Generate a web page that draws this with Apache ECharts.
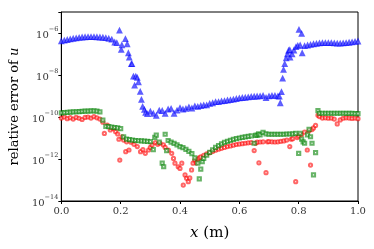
<!DOCTYPE html>
<html><head><meta charset="utf-8">
<script src="https://cdn.jsdelivr.net/npm/echarts@6/dist/echarts.min.js"></script>
<style>html,body{margin:0;padding:0;background:#fff}#c{width:374px;height:249px}</style>
</head><body><div id="c"></div>
<script>
// Blue triangles (x, relative error)
var xBlue = [0.00,0.01,0.02,0.03,0.04,0.05,0.06,0.07,0.08,0.09,0.10,0.11,0.12,0.13,0.14,0.15,0.16,0.17,0.18,0.187,0.196,0.202,0.204,0.216,0.222,0.226,0.229,0.236,0.238,0.243,0.247,0.251,0.256,0.260,0.266,0.270,0.274,0.280,0.284,0.290,0.30,0.31,0.32,0.33,0.34,0.35,0.36,0.37,0.38,0.39,0.40,0.41,0.42,0.43,0.44,0.45,0.46,0.47,0.48,0.49,0.50,0.51,0.52,0.53,0.54,0.55,0.56,0.57,0.58,0.59,0.60,0.61,0.62,0.63,0.64,0.65,0.66,0.67,0.68,0.69,0.70,0.71,0.72,0.73,0.735,0.738,0.742,0.746,0.749,0.753,0.758,0.762,0.766,0.770,0.771,0.778,0.784,0.791,0.797,0.801,0.805,0.810,0.812,0.82,0.83,0.84,0.85,0.86,0.87,0.88,0.89,0.90,0.91,0.92,0.93,0.94,0.95,0.96,0.97,0.98,0.99,1.00];
var yBlue = [3.98e-7,4.27e-7,4.57e-7,4.90e-7,5.25e-7,5.50e-7,5.75e-7,6.03e-7,6.17e-7,6.31e-7,6.31e-7,6.31e-7,6.17e-7,6.03e-7,5.89e-7,5.62e-7,5.25e-7,4.79e-7,3.47e-7,3.24e-7,1.29e-6,1.55e-7,2.57e-7,5.01e-7,2.88e-7,1.07e-7,6.61e-8,3.24e-8,3.24e-8,8.32e-9,3.09e-9,8.32e-9,7.24e-9,4.47e-9,1.55e-9,6.46e-10,3.02e-10,2.14e-10,1.58e-10,1.35e-10,1.78e-10,1.41e-10,1.12e-10,2.00e-10,1.91e-10,1.41e-10,2.24e-10,2.40e-10,1.41e-10,2.00e-10,2.63e-10,2.24e-10,2.40e-10,2.82e-10,2.51e-10,3.16e-10,3.02e-10,3.31e-10,3.55e-10,3.55e-10,4.17e-10,4.47e-10,5.01e-10,5.01e-10,5.50e-10,5.62e-10,6.03e-10,6.31e-10,6.61e-10,7.08e-10,7.59e-10,7.94e-10,8.13e-10,8.51e-10,8.91e-10,9.12e-10,9.33e-10,9.55e-10,1.00e-9,7.94e-10,9.55e-10,1.00e-9,1.00e-9,9.55e-10,9.33e-10,4.47e-10,1.51e-9,6.61e-9,1.74e-8,3.24e-8,6.17e-8,9.55e-8,1.41e-7,1.51e-7,6.61e-8,9.55e-8,1.45e-7,2.09e-7,2.40e-7,1.38e-6,2.51e-7,8.91e-7,1.07e-7,2.34e-7,2.51e-7,2.69e-7,2.88e-7,3.02e-7,3.16e-7,3.24e-7,3.24e-7,3.24e-7,3.24e-7,3.16e-7,3.09e-7,3.09e-7,3.16e-7,3.24e-7,3.39e-7,3.55e-7,3.72e-7,3.89e-7];
// Green squares
var xGreen = [0.00,0.01,0.02,0.03,0.04,0.05,0.06,0.07,0.08,0.09,0.10,0.11,0.12,0.13,0.14,0.15,0.16,0.17,0.18,0.19,0.20,0.21,0.22,0.23,0.24,0.25,0.26,0.27,0.28,0.29,0.30,0.31,0.315,0.32,0.33,0.34,0.345,0.35,0.355,0.36,0.37,0.38,0.39,0.40,0.41,0.42,0.43,0.44,0.45,0.46,0.465,0.47,0.475,0.48,0.49,0.50,0.51,0.52,0.53,0.54,0.55,0.56,0.57,0.58,0.59,0.60,0.61,0.62,0.63,0.64,0.65,0.655,0.66,0.665,0.67,0.68,0.69,0.70,0.71,0.72,0.73,0.74,0.75,0.76,0.77,0.78,0.79,0.80,0.805,0.81,0.815,0.82,0.83,0.835,0.84,0.845,0.85,0.857,0.865,0.87,0.88,0.89,0.90,0.91,0.92,0.93,0.94,0.95,0.96,0.97,0.98,0.99,1.00];
var yGreen = [1.58e-10,1.62e-10,1.66e-10,1.70e-10,1.74e-10,1.78e-10,1.82e-10,1.86e-10,1.91e-10,1.91e-10,1.95e-10,1.95e-10,1.91e-10,1.74e-10,7.08e-11,3.55e-11,3.47e-11,3.31e-11,3.16e-11,3.02e-11,2.82e-11,1.12e-11,8.91e-12,8.32e-12,7.94e-12,7.59e-12,7.41e-12,7.24e-12,7.08e-12,6.92e-12,6.76e-12,2.82e-12,1.07e-11,1.38e-11,6.31e-12,6.31e-13,4.27e-13,1.51e-11,2.51e-12,7.59e-12,6.31e-12,5.50e-12,4.68e-12,3.89e-12,3.47e-12,2.88e-12,2.29e-12,1.82e-12,1.12e-12,6.31e-13,1.12e-13,3.31e-13,7.41e-13,1.07e-12,1.51e-12,2.09e-12,2.75e-12,3.55e-12,4.37e-12,5.25e-12,6.17e-12,6.92e-12,7.76e-12,8.51e-12,9.33e-12,1.00e-11,1.07e-11,1.12e-11,1.20e-11,1.26e-11,5.62e-12,1.32e-11,1.38e-11,1.58e-11,1.41e-11,1.86e-11,1.58e-11,1.51e-11,1.51e-11,1.51e-11,1.51e-11,1.51e-11,1.51e-11,1.55e-11,1.55e-11,1.58e-11,1.66e-11,1.86e-12,1.66e-11,8.91e-12,6.61e-12,5.62e-12,1.41e-11,2.57e-11,1.15e-11,5.62e-12,1.74e-13,2.00e-12,2.00e-10,1.51e-10,1.51e-10,1.51e-10,1.51e-10,1.51e-10,1.51e-10,1.51e-10,1.51e-10,1.51e-10,1.48e-10,1.48e-10,1.48e-10,1.45e-10,1.45e-10];
// Red circles
var xRed = [0.00,0.01,0.02,0.03,0.04,0.05,0.06,0.07,0.08,0.09,0.10,0.11,0.12,0.13,0.14,0.145,0.155,0.165,0.175,0.183,0.19,0.194,0.197,0.205,0.21,0.217,0.22,0.228,0.235,0.245,0.256,0.267,0.275,0.283,0.294,0.30,0.306,0.317,0.325,0.333,0.344,0.35,0.361,0.372,0.378,0.383,0.394,0.40,0.406,0.411,0.417,0.422,0.428,0.433,0.439,0.444,0.45,0.455,0.46,0.465,0.47,0.48,0.49,0.50,0.51,0.52,0.53,0.54,0.55,0.56,0.57,0.58,0.59,0.60,0.61,0.62,0.63,0.64,0.65,0.655,0.66,0.666,0.67,0.68,0.69,0.695,0.70,0.71,0.72,0.73,0.74,0.75,0.76,0.77,0.775,0.78,0.79,0.795,0.80,0.81,0.82,0.829,0.835,0.84,0.845,0.85,0.857,0.865,0.87,0.88,0.89,0.90,0.91,0.92,0.93,0.94,0.95,0.96,0.97,0.98,0.99,1.00];
var yRed = [8.91e-11,1.00e-10,8.32e-11,9.33e-11,7.94e-11,9.55e-11,8.71e-11,7.59e-11,9.55e-11,1.00e-10,8.91e-11,1.05e-10,9.12e-11,7.94e-11,5.62e-11,1.66e-11,4.17e-11,2.40e-11,2.82e-11,2.00e-11,1.55e-11,8.71e-12,8.91e-13,1.12e-11,7.94e-12,2.24e-12,6.61e-12,2.69e-12,6.31e-12,5.01e-12,3.89e-12,2.24e-12,2.82e-12,1.86e-12,2.69e-12,3.55e-12,4.68e-12,6.03e-12,5.01e-12,5.62e-12,4.68e-12,3.55e-12,2.69e-12,1.86e-12,1.07e-12,6.31e-13,4.27e-13,3.55e-13,6.31e-13,5.75e-14,1.74e-13,1.20e-13,8.32e-14,1.26e-13,3.02e-13,6.31e-13,8.91e-13,6.61e-13,1.00e-12,1.12e-12,1.26e-12,1.51e-12,1.74e-12,2.00e-12,2.29e-12,2.63e-12,2.95e-12,3.24e-12,3.55e-12,3.89e-12,4.17e-12,4.57e-12,4.90e-12,5.13e-12,5.37e-12,5.62e-12,5.89e-12,6.03e-12,2.51e-12,5.62e-12,6.31e-12,6.61e-13,6.46e-12,6.61e-12,2.24e-13,6.61e-12,6.76e-12,6.61e-12,6.46e-12,6.61e-12,6.92e-12,7.24e-12,7.94e-12,3.89e-12,8.71e-12,9.33e-12,8.32e-14,1.05e-11,1.26e-11,1.45e-11,1.91e-11,2.69e-12,2.19e-11,5.13e-13,2.51e-11,3.02e-11,3.98e-11,1.20e-10,1.05e-10,8.91e-11,9.12e-11,8.71e-11,8.91e-11,7.94e-11,4.68e-11,7.24e-11,8.71e-11,9.12e-11,8.91e-11,8.51e-11,8.91e-11,8.32e-11];

var xTicks = [0, 0.2, 0.4, 0.6, 0.8, 1.0];

function pairs(xs, ys){ var out=[]; for (var i=0;i<xs.length;i++) out.push([xs[i], ys[i]]); return out; }

var FONT = 'DejaVu Serif';
var chart = echarts.init(document.getElementById('c'), null, {renderer:'canvas'});
chart.setOption({
  animation: false,
  backgroundColor: '#fff',
  grid: {left:58, right:16, top:12, bottom:48, show:true, borderColor:'#000', borderWidth:1, backgroundColor:'transparent'},
  xAxis: {
    type:'value', min:0, max:1, interval:0.2,
    name:'{i|x} (m)', nameLocation:'middle', nameGap:25,
    nameTextStyle:{fontFamily:FONT, fontSize:15, color:'#000', rich:{i:{fontFamily:FONT, fontStyle:'italic', fontSize:15, color:'#000'}}},
    axisLine:{show:true, lineStyle:{color:'#000', width:1}},
    axisTick:{show:true, length:3, lineStyle:{color:'#000'}},
    splitLine:{show:false},
    axisLabel:{fontFamily:FONT, fontSize:10, color:'#333', margin:5, formatter:function(v){ return v.toFixed(1); }}
  },
  yAxis: {
    type:'log', logBase:10, min:1e-14, max:1e-5, interval:2,
    name:'relative error of {i|u}', nameLocation:'middle', nameGap:30, nameRotate:90,
    nameTextStyle:{fontFamily:FONT, fontSize:13, color:'#000', rich:{i:{fontFamily:FONT, fontStyle:'italic', fontSize:13, color:'#000'}}},
    axisLine:{show:true, lineStyle:{color:'#000', width:1}},
    axisTick:{show:true, length:3, lineStyle:{color:'#000'}},
    splitLine:{show:false},
    axisLabel:{fontFamily:FONT, color:'#333', margin:3,
      formatter:function(v){ var e=Math.round(Math.log10(v)); if (e%2!==0) return ''; return '{b|10}{s|\u2212'+Math.abs(e)+'}'; },
      rich:{b:{fontFamily:FONT, fontSize:10, color:'#333', lineHeight:15, verticalAlign:'bottom'}, s:{fontFamily:FONT, fontSize:6.5, color:'#333', lineHeight:15, verticalAlign:'top'}}}
  },
  series: [
    {type:'scatter', data:pairs(xRed,yRed), symbol:'emptyCircle', symbolSize:3.2, itemStyle:{color:'rgba(255,0,0,0.75)', borderWidth:0.7}},
    {type:'scatter', data:pairs(xGreen,yGreen), symbol:'emptyRect', symbolSize:3.2, itemStyle:{color:'rgba(0,128,0,0.75)', borderWidth:0.7}},
    {type:'scatter', data:pairs(xBlue,yBlue), symbol:'emptyTriangle', symbolSize:3.6, itemStyle:{color:'rgba(0,0,255,0.8)', borderWidth:0.7}}
  ]
});
</script></body></html>
